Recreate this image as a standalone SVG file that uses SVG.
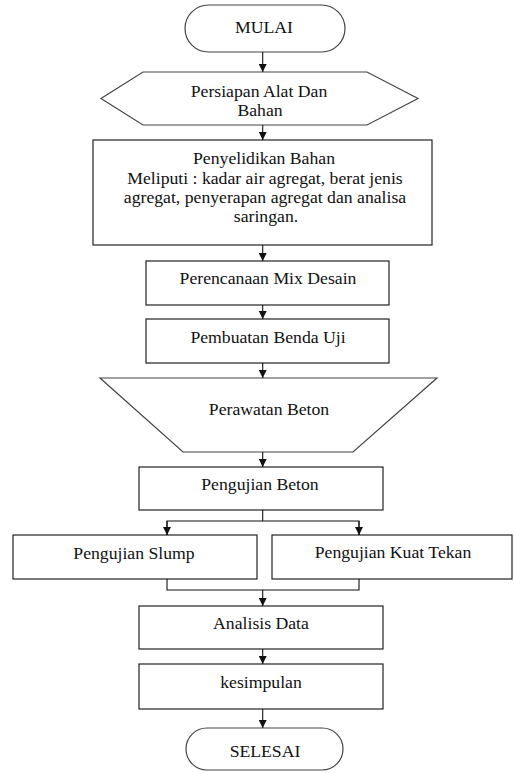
<svg xmlns="http://www.w3.org/2000/svg" width="514" height="773" viewBox="0 0 514 773">
<style>
.s{fill:#fff;stroke:#222;stroke-width:1.2}
.t{fill:#fff;stroke:#444;stroke-width:1.2}
.c{fill:none;stroke:#111;stroke-width:1.1}
text{font-family:"Liberation Serif","Times New Roman",serif;font-size:17.7px;fill:#111;text-anchor:middle}
</style>
<defs>
<marker id="a" markerUnits="userSpaceOnUse" markerWidth="8" markerHeight="8" refX="8" refY="4" orient="auto">
<path d="M0,0 L8,4 L0,8 Z" fill="#111"/>
</marker>
</defs>
<g id="mulai"><rect class="t" x="185" y="5" width="160" height="47" rx="23.5"/><text x="264" y="33">MULAI</text></g>
<g id="persiapan"><polygon class="t" points="101,98.5 143,72 367,72 418,98.5 367,125 143,125"/><text x="259" y="97">Persiapan Alat Dan</text><text x="260" y="116">Bahan</text></g>
<g id="penyelidikan"><rect class="s" x="93" y="140" width="339" height="105"/><text x="264" y="164">Penyelidikan Bahan</text><text x="265" y="184">Meliputi : kadar air agregat, berat jenis</text><text x="265" y="203">agregat, penyerapan agregat dan analisa</text><text x="266" y="222">saringan.</text></g>
<g id="perencanaan"><rect class="s" x="146" y="261" width="243" height="44"/><text x="268" y="284">Perencanaan Mix Desain</text></g>
<g id="pembuatan"><rect class="s" x="146" y="319" width="243" height="44"/><text x="268" y="343">Pembuatan Benda Uji</text></g>
<g id="perawatan"><polygon class="t" points="100,378 437,378 353,452 183,452"/><text x="269" y="415">Perawatan Beton</text></g>
<g id="pengujian-beton"><rect class="s" x="139" y="467" width="244" height="43"/><text x="260" y="490">Pengujian Beton</text></g>
<g id="slump"><rect class="s" x="13" y="535" width="244" height="44"/><text x="134" y="559">Pengujian Slump</text></g>
<g id="kuat-tekan"><rect class="s" x="272" y="535" width="240" height="44"/><text x="393" y="558">Pengujian Kuat Tekan</text></g>
<g id="analisis"><rect class="s" x="139" y="606" width="244" height="43"/><text x="261" y="629">Analisis Data</text></g>
<g id="kesimpulan"><rect class="s" x="139" y="664" width="244" height="45"/><text x="261" y="688">kesimpulan</text></g>
<g id="selesai"><rect class="t" x="186" y="728" width="157" height="42" rx="21"/><text x="265" y="757">SELESAI</text></g>
<g id="connectors">
<line class="c" x1="262.7" y1="52" x2="262.7" y2="72" marker-end="url(#a)"/>
<line class="c" x1="262.7" y1="125" x2="262.7" y2="140" marker-end="url(#a)"/>
<line class="c" x1="262.7" y1="245" x2="262.7" y2="261" marker-end="url(#a)"/>
<line class="c" x1="262.7" y1="305" x2="262.7" y2="319" marker-end="url(#a)"/>
<line class="c" x1="262.7" y1="363" x2="262.7" y2="378" marker-end="url(#a)"/>
<line class="c" x1="262.7" y1="452" x2="262.7" y2="467" marker-end="url(#a)"/>
<polyline class="c" points="262.7,510 262.7,521"/>
<polyline class="c" points="167,535 167,521 359,521 359,535"/>
<line class="c" x1="167" y1="521" x2="167" y2="535" marker-end="url(#a)"/>
<line class="c" x1="359" y1="521" x2="359" y2="535" marker-end="url(#a)"/>
<polyline class="c" points="167,579 167,590 359,590 359,579"/>
<line class="c" x1="262.7" y1="590" x2="262.7" y2="606" marker-end="url(#a)"/>
<line class="c" x1="262.7" y1="649" x2="262.7" y2="664" marker-end="url(#a)"/>
<line class="c" x1="262.7" y1="709" x2="262.7" y2="728" marker-end="url(#a)"/>
</g>
</svg>
